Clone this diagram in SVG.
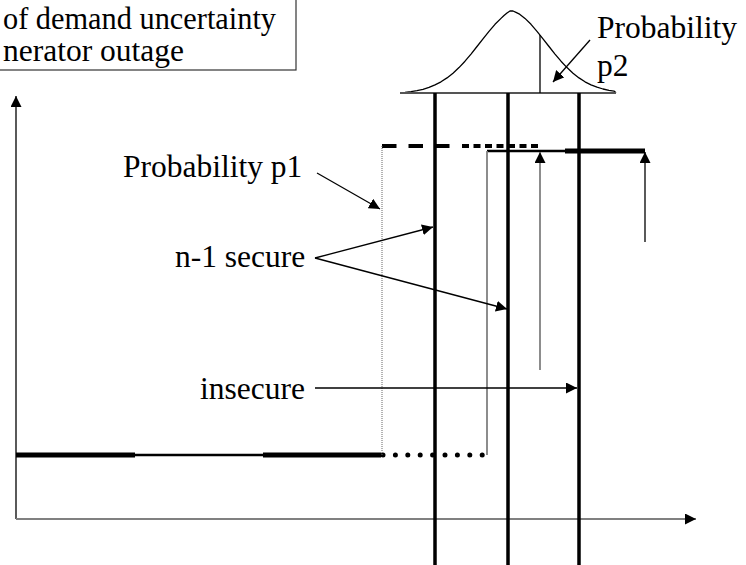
<svg xmlns="http://www.w3.org/2000/svg" width="746" height="565" viewBox="0 0 746 565">
<defs>
<marker id="ah" markerUnits="userSpaceOnUse" markerWidth="12" markerHeight="11" refX="11" refY="5.5" orient="auto">
<path d="M0,0 L11,5.5 L0,11 z" fill="#000"/>
</marker>
</defs>
<style>
text{font-family:"Liberation Serif","Times New Roman",serif;font-size:31.5px;fill:#000}
.thin{stroke:#000;stroke-width:1.3;fill:none}
.gray{stroke:#808080;stroke-width:1.8;fill:none}
.bar{stroke:#000;stroke-width:3.5;fill:none}
.heavy{stroke:#000;stroke-width:5;fill:none}
.mid{stroke:#000;stroke-width:2.5;fill:none}
</style>
<g id="title-box">
<rect x="-5" y="-5" width="301" height="75" fill="#fff" stroke="#333" stroke-width="1.2"/>
<text x="3" y="29" textLength="273" lengthAdjust="spacingAndGlyphs">of demand uncertainty</text>
<text x="3" y="61">nerator outage</text>
</g>
<g id="axes">
<line x1="16" y1="519" x2="16" y2="96" class="thin" marker-end="url(#ah)"/>
<line x1="16" y1="519" x2="696" y2="519" class="gray" marker-end="url(#ah)"/>
</g>
<g id="distribution">
<polyline class="thin" stroke-linejoin="round" points="400,92.8 405,92.4 411,91.6 417,90.6 423,89.3 429,87.3 435,84.8 441,81.8 447,77.9 453,73.2 459,67.6 465,61.2 471,54.1 477,46.5 483,38.8 489,31.3 495,24.3 501,18.4 504,15.5 507,13 510,11 513,11 516,12.3 519,13.8 525,18.4 531,24.3 537,31.3 543,38.8 549,46.5 555,54.1 561,61.2 567,67.6 573,73.2 579,77.9 585,81.8 591,84.8 597,87.2 603,89 609,90.3 614,91.1 616,92.8"/>
<line x1="400" y1="93" x2="616" y2="93" stroke="#555" stroke-width="2"/>
<line x1="540" y1="35" x2="540" y2="93" class="thin"/>
</g>
<g id="verticals">
<line x1="435" y1="93" x2="435" y2="565" class="bar"/>
<line x1="508" y1="93" x2="508" y2="565" class="bar"/>
<line x1="579" y1="93" x2="579" y2="565" class="bar"/>
</g>
<g id="upper-level">
<line x1="382" y1="146" x2="452" y2="146" stroke="#000" stroke-width="4" stroke-dasharray="14.5 12"/>
<line x1="462" y1="146" x2="538" y2="146" stroke="#000" stroke-width="4" stroke-dasharray="7 4.5"/>
<line x1="487" y1="151" x2="566" y2="151" class="mid"/>
<line x1="565" y1="151" x2="645" y2="151" class="heavy"/>
</g>
<g id="lower-level">
<line x1="16" y1="455" x2="135" y2="455" class="heavy"/>
<line x1="135" y1="455" x2="263" y2="455" class="mid"/>
<line x1="263" y1="455" x2="381" y2="455" class="heavy"/>
<line x1="383" y1="455" x2="483" y2="455" stroke="#000" stroke-width="5" stroke-linecap="round" stroke-dasharray="0 12.4"/>
<line x1="382" y1="146" x2="382" y2="455" stroke="#666" stroke-width="1" stroke-dasharray="1 1"/>
<line x1="487" y1="151" x2="487" y2="455" class="gray"/>
</g>
<g id="connectors">
<line x1="540" y1="370" x2="540" y2="152" class="gray" marker-end="url(#ah)"/>
<line x1="645" y1="242" x2="645" y2="152" class="thin" marker-end="url(#ah)"/>
<line x1="590" y1="40" x2="553" y2="82" class="thin" marker-end="url(#ah)"/>
<line x1="317" y1="173" x2="380" y2="209" class="thin" marker-end="url(#ah)"/>
<line x1="315" y1="258" x2="433" y2="227" class="thin" marker-end="url(#ah)"/>
<line x1="315" y1="258" x2="507" y2="309" class="thin" marker-end="url(#ah)"/>
<line x1="315" y1="388" x2="577" y2="388" class="thin" marker-end="url(#ah)"/>
</g>
<g id="labels">
<text x="597" y="38">Probability</text>
<text x="597" y="76">p2</text>
<text x="123" y="177">Probability p1</text>
<text x="175" y="267">n-1 secure</text>
<text x="200" y="399">insecure</text>
</g>
</svg>
